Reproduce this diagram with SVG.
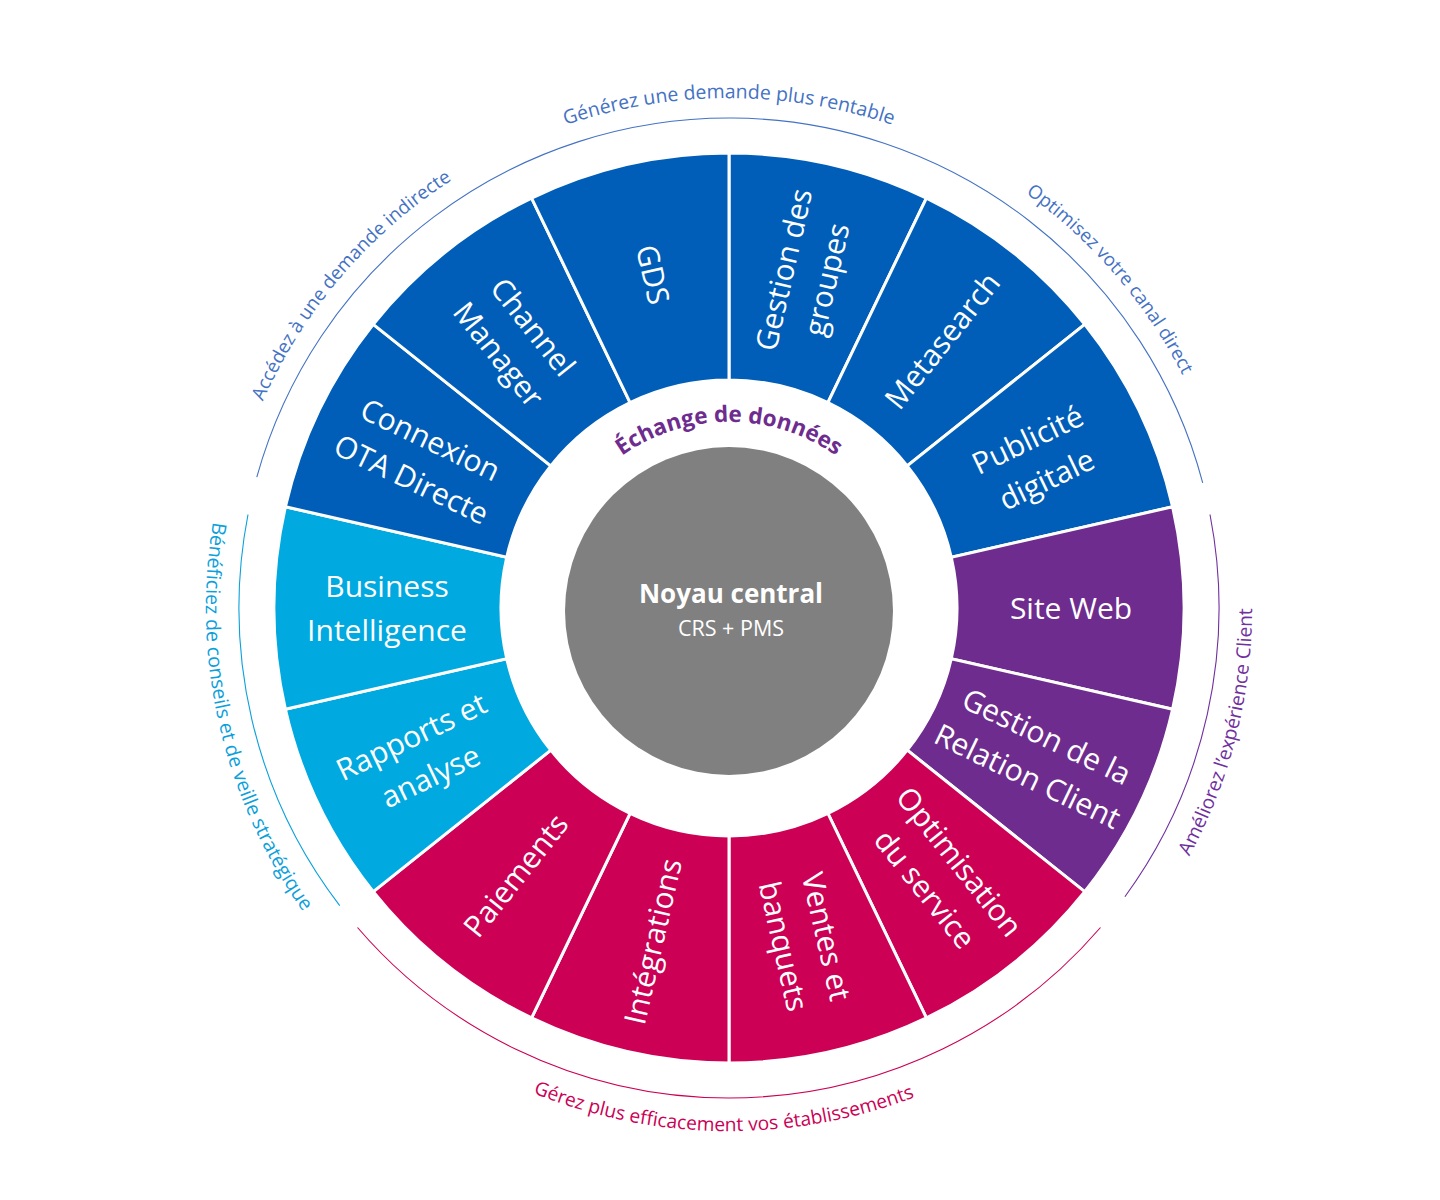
<svg xmlns="http://www.w3.org/2000/svg" width="1440" height="1200" viewBox="0 0 1440 1200">
<style>
.seg{stroke:#ffffff;stroke-width:3;stroke-linejoin:miter}
.blue{fill:#005EB8}
.lblue{fill:#00A9E0}
.purple{fill:#6E2C8E}
.mag{fill:#CC0055}
.lbl{font-family:"Open Sans","Liberation Sans",sans-serif;font-size:30px;fill:#ffffff;text-anchor:middle}
.arc{fill:none;stroke-width:1.1}
.atext{font-family:"Open Sans","Liberation Sans",sans-serif;text-anchor:middle}
</style>
<defs>
<path id="topArc" d="M249.8,433.6 A510,510 0 0 1 1208.2,433.6"/>
<path id="botArc" d="M237.5,786.9 A523,523 0 0 0 1220.5,786.9"/>
<path id="innerArc" d="M545.8,575.7 A186,186 0 0 1 912.2,575.7"/>
</defs>
<rect width="1440" height="1200" fill="#ffffff"/>

<g id="outer-arcs">
<path class="arc" stroke="#4472C4" d="M256.8,477.1 A490,490 0 0 1 1202.7,482.8"/>
<path class="arc" stroke="#7030A0" d="M1210,514.5 A490,490 0 0 1 1124.9,896.7"/>
<path class="arc" stroke="#CC0055" d="M1100.5,927.5 A490,490 0 0 1 357.5,927.5"/>
<path class="arc" stroke="#0AA0DC" d="M339.7,905.6 A490,490 0 0 1 248,514.5"/>
</g>

<g id="arc-labels">
<text class="atext" font-size="19.5" fill="#4472C4"><textPath href="#topArc" startOffset="50%">Générez une demande plus rentable</textPath></text>
<g transform="rotate(-49.5 729 608)"><text class="atext" font-size="18.8" fill="#4472C4"><textPath href="#topArc" startOffset="50%">Accédez à une demande indirecte</textPath></text></g>
<g transform="rotate(49.2 729 608)"><text class="atext" font-size="18.6" fill="#4472C4"><textPath href="#topArc" startOffset="50%">Optimisez votre canal direct</textPath></text></g>
<g transform="rotate(0.6 729 608)"><text class="atext" font-size="19.2" fill="#CC0055"><textPath href="#botArc" startOffset="50%">Gérez plus efficacement vos établissements</textPath></text></g>
<g transform="rotate(77 729 608)"><text class="atext" font-size="19.6" fill="#0AA0DC"><textPath href="#botArc" startOffset="50%">Bénéficiez de conseils et de veille stratégique</textPath></text></g>
<g transform="rotate(-75.8 729 608)"><text class="atext" font-size="19.3" fill="#7030A0"><textPath href="#botArc" startOffset="50%">Améliorez l’expérience Client</textPath></text></g>
</g>

<g id="seg-gestion-groupes">
<path class="seg blue" d="M729,153 A455,455 0 0 1 926.42,198.06 L827.92,402.58 A228,228 0 0 0 729,380 Z"/>
<text class="lbl" transform="translate(805.1,274.6) rotate(-77.14)"><tspan x="0" y="-11.3">Gestion des</tspan><tspan x="0" y="32.7">groupes</tspan></text>
</g>
<g id="seg-metasearch">
<path class="seg blue" d="M926.42,198.06 A455,455 0 0 1 1084.73,324.31 L907.26,465.84 A228,228 0 0 0 827.92,402.58 Z"/>
<text class="lbl" transform="translate(942.2,340.6) rotate(-51.43)"><tspan x="0" y="10.7">Metasearch</tspan></text>
</g>
<g id="seg-publicite">
<path class="seg blue" d="M1084.73,324.31 A455,455 0 0 1 1172.59,506.75 L951.28,557.27 A228,228 0 0 0 907.26,465.84 Z"/>
<text class="lbl" transform="translate(1037.1,459.6) rotate(-25.71)"><tspan x="0" y="-11.3">Publicité</tspan><tspan x="0" y="32.7">digitale</tspan></text>
</g>
<g id="seg-site-web">
<path class="seg purple" d="M1172.59,506.75 A455,455 0 0 1 1172.59,709.25 L951.28,658.73 A228,228 0 0 0 951.28,557.27 Z"/>
<text class="lbl" transform="translate(1071,608)"><tspan x="0" y="10.7">Site Web</tspan></text>
</g>
<g id="seg-grc">
<path class="seg purple" d="M1172.59,709.25 A455,455 0 0 1 1084.73,891.69 L907.26,750.16 A228,228 0 0 0 951.28,658.73 Z"/>
<text class="lbl" transform="translate(1037.1,756.4) rotate(25.71)"><tspan x="0" y="-11.3">Gestion de la</tspan><tspan x="0" y="32.7">Relation Client</tspan></text>
</g>
<g id="seg-optimisation">
<path class="seg mag" d="M1084.73,891.69 A455,455 0 0 1 926.42,1017.94 L827.92,813.42 A228,228 0 0 0 907.26,750.16 Z"/>
<text class="lbl" transform="translate(942.2,875.4) rotate(51.43)"><tspan x="0" y="-11.3">Optimisation</tspan><tspan x="0" y="32.7">du service</tspan></text>
</g>
<g id="seg-ventes">
<path class="seg mag" d="M926.42,1017.94 A455,455 0 0 1 729,1063 L729,836 A228,228 0 0 0 827.92,813.42 Z"/>
<text class="lbl" transform="translate(805.1,941.4) rotate(77.14)"><tspan x="0" y="-11.3">Ventes et</tspan><tspan x="0" y="32.7">banquets</tspan></text>
</g>
<g id="seg-integrations">
<path class="seg mag" d="M729,1063 A455,455 0 0 1 531.58,1017.94 L630.08,813.42 A228,228 0 0 0 729,836 Z"/>
<text class="lbl" transform="translate(652.9,941.4) rotate(-77.14)"><tspan x="0" y="10.7">Intégrations</tspan></text>
</g>
<g id="seg-paiements">
<path class="seg mag" d="M531.58,1017.94 A455,455 0 0 1 373.27,891.69 L550.74,750.16 A228,228 0 0 0 630.08,813.42 Z"/>
<text class="lbl" transform="translate(515.8,875.4) rotate(-51.43)"><tspan x="0" y="10.7">Paiements</tspan></text>
</g>
<g id="seg-rapports">
<path class="seg lblue" d="M373.27,891.69 A455,455 0 0 1 285.41,709.25 L506.72,658.73 A228,228 0 0 0 550.74,750.16 Z"/>
<text class="lbl" transform="translate(420.9,756.4) rotate(-25.71)"><tspan x="0" y="-11.3">Rapports et</tspan><tspan x="0" y="32.7">analyse</tspan></text>
</g>
<g id="seg-bi">
<path class="seg lblue" d="M285.41,709.25 A455,455 0 0 1 285.41,506.75 L506.72,557.27 A228,228 0 0 0 506.72,658.73 Z"/>
<text class="lbl" transform="translate(387,608)"><tspan x="0" y="-11.3">Business</tspan><tspan x="0" y="32.7">Intelligence</tspan></text>
</g>
<g id="seg-connexion">
<path class="seg blue" d="M285.41,506.75 A455,455 0 0 1 373.27,324.31 L550.74,465.84 A228,228 0 0 0 506.72,557.27 Z"/>
<text class="lbl" transform="translate(420.9,459.6) rotate(25.71)"><tspan x="0" y="-11.3">Connexion</tspan><tspan x="0" y="32.7">OTA Directe</tspan></text>
</g>
<g id="seg-channel">
<path class="seg blue" d="M373.27,324.31 A455,455 0 0 1 531.58,198.06 L630.08,402.58 A228,228 0 0 0 550.74,465.84 Z"/>
<text class="lbl" transform="translate(515.8,340.6) rotate(51.43)"><tspan x="0" y="-11.3">Channel</tspan><tspan x="0" y="32.7">Manager</tspan></text>
</g>
<g id="seg-gds">
<path class="seg blue" d="M531.58,198.06 A455,455 0 0 1 729,153 L729,380 A228,228 0 0 0 630.08,402.58 Z"/>
<text class="lbl" transform="translate(652.9,274.6) rotate(77.14)"><tspan x="0" y="10.7">GDS</tspan></text>
</g>

<g id="echange">
<text class="atext" font-size="22.5" font-weight="700" fill="#6E2C8E"><textPath href="#innerArc" startOffset="50%">Échange de données</textPath></text>
</g>

<g id="core">
<circle cx="729" cy="611" r="164" fill="#808080"/>
<text x="731" y="603" font-family="'Open Sans','Liberation Sans',sans-serif" font-size="26" font-weight="700" fill="#ffffff" text-anchor="middle">Noyau central</text>
<text x="731" y="636" font-family="'Open Sans','Liberation Sans',sans-serif" font-size="21.5" fill="#ffffff" text-anchor="middle">CRS + PMS</text>
</g>
</svg>
